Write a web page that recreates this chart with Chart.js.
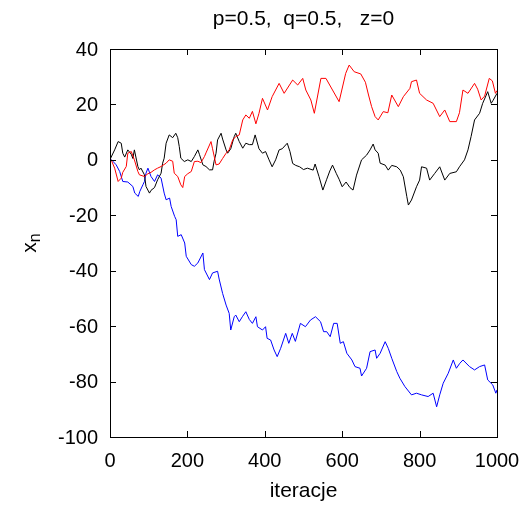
<!DOCTYPE html>
<html>
<head>
<meta charset="utf-8">
<script src="https://cdn.jsdelivr.net/npm/chart.js@4/dist/chart.umd.min.js"></script>
<style>
  html, body { margin: 0; padding: 0; background: #fff; }
  #wrap { width: 526px; height: 506px; }
</style>
</head>
<body>
<div id="wrap"><canvas id="walk"></canvas></div>
<script>
// values (iteration, x_n)
var blackIter = [0,3,12,21,29,33,38,46,55,59,63,72,76,80,89,93,102,106,115,123,132,136,140,145,153,162,170,175,179,183,192,201,210,218,227,231,240,248,257,265,269,274,278,287,291,300,304,312,321,325,334,343,351,360,368,375,385,394,402,411,419,428,437,445,458,465,472,480,490,500,510,525,530,540,550,560,568,575,585,592,600,610,620,628,637,650,663,672,680,685,693,698,711,719,728,741,750,758,767,771,779,792,800,805,818,826,839,852,865,878,895,903,916,925,933,942,955,963,976,985,990,1000];
var blackVal  = [0,1,3.6,6.6,6,2.4,1,3.6,2,0.5,3.6,-2.4,-3.6,-3,-5.4,-9.6,-12,-11,-10,-7.2,-4.8,-1.2,0.6,6,9,8,9.6,8,4.8,0.6,-0.6,0,-0.6,1.2,3.6,2,-1.8,-2.4,-3.6,-3.6,-0.5,2.4,7.2,9.6,7.5,3.6,2.4,4,8.4,9.6,6.6,4.2,6,5.5,5.5,9,4,2.4,3,0,-2.5,0,3.6,4,6,3,-1.3,-2,-2.5,-3.5,-3,-3.7,-1.5,-6,-10.9,-7,-4,-1.9,-5,-7,-9.7,-8,-10,-10.9,-5.5,0,1.7,3.6,5.7,3.6,2.4,-1.2,-1.9,-3.7,-2,-2.5,-3.7,-6.1,-13.3,-16.3,-14.5,-9.7,-7.3,-2.5,-3,-7.3,-4.9,-2.5,-7.3,-4.9,-4.3,-2.5,0,3.6,8.4,14.4,16.8,20.4,24.6,20.4,21.5,24];

var redIter = [0,3,12,21,29,33,42,46,55,63,72,76,89,98,106,115,123,132,145,153,162,166,175,183,188,193,201,210,218,227,235,244,248,261,265,274,282,291,300,308,317,325,334,343,351,360,368,377,385,394,407,419,437,450,472,485,498,506,519,528,545,558,575,592,609,618,631,648,660,668,676,685,693,706,718,728,745,758,775,779,792,800,818,835,852,865,878,895,903,912,925,942,950,959,968,980,988,996,1000];
var redVal  = [0,0,-3,-7.8,-6.6,-4.5,-2.4,2.4,3,0,-4.2,-5.4,-6,-5,-4.5,-3.6,-3,-2.4,-1.2,0,-0.5,-4.8,-6,-9,-10,-6,-5,-4.2,-0.6,-0.5,-1,1.2,2.5,6.6,4,-1.8,-1.5,0.5,2.4,3.6,7.2,8.4,9,14.4,16.2,15,17.5,13,16.8,22.2,18,22.8,27.6,24,28.8,27,29.4,25.2,21.6,16.8,29.4,29.4,25.2,21,31.2,34.2,31.8,31,28,23.4,19.2,15.6,14.4,17.4,17,23.4,19.2,22.8,25.8,28.2,28.8,24,21.6,20.4,15.6,18,13.8,13.8,17,25.2,24,27.6,25.5,21.6,23,29.4,28.5,24,25];

var blueIter = [0,4,16,25,33,46,59,64,73,77,85,89,93,98,106,115,123,132,140,145,154,158,167,171,175,184,193,197,210,218,227,240,244,257,265,278,282,291,300,308,312,321,325,334,342,351,360,368,377,381,394,402,406,415,424,432,441,454,462,471,479,492,505,518,531,544,552,560,569,578,587,595,603,612,625,633,646,650,663,672,685,689,698,711,719,728,741,749,762,779,792,805,822,835,844,852,861,874,887,895,904,912,929,942,955,968,976,989,997,1000];
var blueVal  = [0,0,-1.8,-4.2,-7.8,-8,-9.6,-12,-13.2,-11.4,-9,-7.8,-4.8,-3,-6,-7.8,-5.4,-6.6,-12,-14.4,-13.8,-16.8,-20.4,-21.6,-27.6,-27,-30,-34.8,-37.8,-38.4,-37.2,-33.6,-39.6,-43.2,-40.8,-40.2,-43,-48.2,-52.4,-55.4,-61.4,-56.6,-56,-58.4,-56.6,-54.8,-57.6,-59,-56.6,-60.2,-61.4,-60.2,-64.4,-65,-68.6,-71,-68,-62.6,-66.2,-62.6,-65.5,-59,-60.2,-57.8,-56.6,-58.4,-62,-62,-63.8,-59,-59,-66.2,-65.6,-69.8,-72.2,-74.6,-75.2,-78,-75.2,-69.2,-68.6,-71.6,-69.8,-65.6,-68,-71.6,-76.4,-78.8,-81.8,-84.8,-84.2,-84.8,-85.4,-84.2,-89.1,-84.8,-80.6,-77,-72.2,-75.2,-73.4,-72.2,-74.6,-75.8,-74.6,-74,-79.4,-81.2,-84.2,-83];

var xTicks = [0, 200, 400, 600, 800, 1000];
var yTicks = [-100, -80, -60, -40, -20, 0, 20, 40];

var titleText = 'p=0.5,  q=0.5,   z=0';
var xTitle = 'iteracje';

var font = '"Liberation Sans", Arial, Helvetica, sans-serif';

function pts(xs, ys) {
    return xs.map(function (x, i) { return { x: x, y: ys[i] }; });
}

// gnuplot-like frame, inward ticks, tick labels and titles
var gnuplotLook = {
    id: 'gnuplotLook',
    afterDraw: function (chart) {
        var ctx = chart.ctx;
        var a = chart.chartArea;
        var sx = chart.scales.x, sy = chart.scales.y;
        ctx.save();
        ctx.strokeStyle = '#000';
        ctx.lineWidth = 1;
        ctx.beginPath();
        xTicks.forEach(function (v) {
            var p = Math.round(sx.getPixelForValue(v)) + 0.5;
            ctx.moveTo(p, a.bottom); ctx.lineTo(p, a.bottom - 6);
            ctx.moveTo(p, a.top); ctx.lineTo(p, a.top + 6);
        });
        yTicks.forEach(function (v) {
            var p = Math.round(sy.getPixelForValue(v)) + 0.5;
            ctx.moveTo(a.left, p); ctx.lineTo(a.left + 6, p);
            ctx.moveTo(a.right, p); ctx.lineTo(a.right - 6, p);
        });
        ctx.stroke();
        ctx.strokeRect(Math.round(a.left) + 0.5, Math.round(a.top) + 0.5,
            Math.round(a.right - a.left), Math.round(a.bottom - a.top));

        ctx.fillStyle = '#000';
        ctx.font = '20px ' + font;
        ctx.textBaseline = 'middle';
        ctx.textAlign = 'center';
        xTicks.forEach(function (v) {
            ctx.fillText(String(v), sx.getPixelForValue(v), 461);
        });
        ctx.textAlign = 'right';
        yTicks.forEach(function (v) {
            ctx.fillText(String(v), 98, sy.getPixelForValue(v) + 1);
        });

        ctx.textAlign = 'center';
        ctx.font = '21px ' + font;
        ctx.fillText(titleText, (a.left + a.right) / 2, 19);
        ctx.fillText(xTitle, (a.left + a.right) / 2, 491);

        // y title x_n
        ctx.translate(30, 243);
        ctx.rotate(-Math.PI / 2);
        ctx.textAlign = 'left';
        ctx.font = '21px ' + font;
        var w = ctx.measureText('x').width;
        ctx.font = '16px ' + font;
        var wn = ctx.measureText('n').width;
        var start = -(w + wn) / 2;
        ctx.font = '21px ' + font;
        ctx.fillText('x', start, 0);
        ctx.font = '16px ' + font;
        ctx.fillText('n', start + w, 6);
        ctx.restore();
    }
};

new Chart(document.getElementById('walk'), {
    type: 'line',
    data: {
        datasets: [
            { data: pts(redIter, redVal), borderColor: '#ff0000', borderWidth: 1, pointRadius: 0, tension: 0 },
            { data: pts(blackIter, blackVal), borderColor: '#000000', borderWidth: 1, pointRadius: 0, tension: 0 },
            { data: pts(blueIter, blueVal), borderColor: '#0000ff', borderWidth: 1, pointRadius: 0, tension: 0 }
        ]
    },
    options: {
        responsive: true,
        maintainAspectRatio: false,
        animation: false,
        layout: { padding: { top: 49, right: 29, left: 0, bottom: 0 } },
        plugins: {
            legend: { display: false },
            tooltip: { enabled: false },
            title: { display: false }
        },
        scales: {
            x: {
                type: 'linear',
                min: 0,
                max: 1000,
                grid: { display: false, drawTicks: false },
                border: { display: false },
                afterBuildTicks: function (s) { s.ticks = xTicks.map(function (v) { return { value: v }; }); },
                afterFit: function (s) { s.height = 506 - 437; },
                ticks: { display: false }
            },
            y: {
                type: 'linear',
                min: -100,
                max: 40,
                grid: { display: false, drawTicks: false },
                border: { display: false },
                afterBuildTicks: function (s) { s.ticks = yTicks.map(function (v) { return { value: v }; }); },
                afterFit: function (s) { s.width = 110; },
                ticks: { display: false }
            }
        }
    },
    plugins: [gnuplotLook]
});
</script>
</body>
</html>
